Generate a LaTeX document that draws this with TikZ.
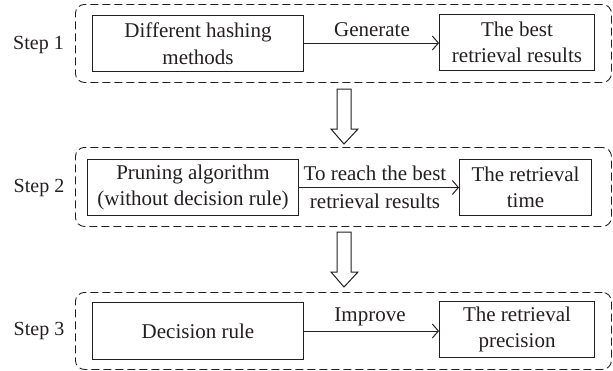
\documentclass[tikz,border=0pt]{standalone}
\usepackage{fontspec}
\setmainfont{Liberation Serif}
\usetikzlibrary{arrows.meta,positioning}
\definecolor{ink}{HTML}{231F20}
\tikzset{
  x=1pt,y=-1pt,
  every node/.style={text=ink,font=\fontsize{21}{26.5}\selectfont},
  group/.style={draw=ink,line width=0.9pt,dash pattern=on 8pt off 4pt,rounded corners=9pt,inner sep=0pt,anchor=north west},
  stepbox/.style={draw=ink,line width=1pt,align=center,inner sep=0pt,anchor=north west},
  link/.style={draw=ink,line width=1pt,-{Straight Barb[length=6pt,width=14pt,line width=1pt]}},
  blockarrow/.style={draw=ink,line width=1pt,fill=white,line join=miter},
  lab/.style={inner sep=0pt,align=center},
  steplab/.style={inner sep=0pt,font=\fontsize{20}{25}\selectfont}
}
\begin{document}
\begin{tikzpicture}
\useasboundingbox (0,0) rectangle (613,370);
% groups
\node[group,minimum width=536pt,minimum height=78pt] (g1) at (75,4) {};
\node[group,minimum width=536pt,minimum height=79pt] (g2) at (75,147) {};
\node[group,minimum width=536pt,minimum height=77pt] (g3) at (75,292) {};
% step labels
\node[steplab] (s1) at (38.5,45.5) {Step 1};
\node[steplab] (s2) at (39,188.5) {Step 2};
\node[steplab] (s3) at (39,331.5) {Step 3};
% boxes
\node[stepbox,minimum width=211pt,minimum height=56pt] (a1) at (92,15) {Different hashing\\methods};
\node[stepbox,minimum width=155pt,minimum height=56pt] (b1) at (439,14) {The best\\retrieval results};
\node[stepbox,minimum width=211pt,minimum height=56pt] (a2) at (87,159) {Pruning algorithm\\(without decision rule)};
\node[stepbox,minimum width=132pt,minimum height=56pt] (b2) at (459,159) {The retrieval\\time};
\node[stepbox,minimum width=211pt,minimum height=57pt] (a3) at (92,302) {Decision rule};
\node[stepbox,minimum width=155pt,minimum height=56pt] (b3) at (439,301) {The retrieval\\precision};
% connectors
\draw[link] (a1.east |- 0,43) coordinate (c1) -- (c1 -| b1.west);
\draw[link] (a2) -- (b2);
\draw[link] (a3.east |- 0,331) coordinate (c3) -- (c3 -| b3.west);
% connector labels
\node[lab] (l1) at (372,30) {Generate};
\node[lab] (l2) at (375,173.5) {To reach the best};
\node[lab] (l2b) at (375,201) {retrieval results};
\node[lab] (l3) at (370,317) {Improve};
% block arrows
\draw[blockarrow] (337,89) -- (351,89) -- (351,129) -- (358,129) -- (344,144) -- (331,129) -- (337,129) -- cycle;
\draw[blockarrow] (337,232) -- (351,232) -- (351,272) -- (358,272) -- (344,287) -- (331,272) -- (337,272) -- cycle;
\end{tikzpicture}
\end{document}
